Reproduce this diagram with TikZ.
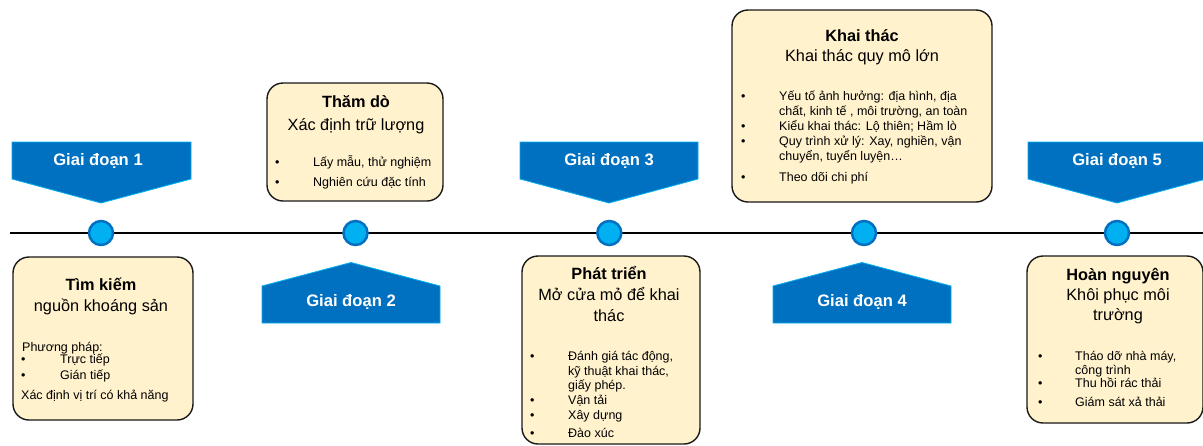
\documentclass[tikz,border=0pt]{standalone}
\usepackage{fontspec}
\setmainfont{Liberation Sans}
\definecolor{bandblue}{HTML}{0070C0}
\definecolor{dotcyan}{HTML}{00B0F0}
\definecolor{cream}{HTML}{FFF2CC}
\begin{document}
\begin{tikzpicture}[x=1pt, y=-1pt,
  box/.style = {draw=black!90, line width=1.4pt, fill=cream, rounded corners=16pt, inner sep=0pt},
  band/.style = {fill=bandblue, draw=dotcyan, line width=0.8pt},
  bandtext/.style = {text=white, font=\bfseries\fontsize{16.6}{19}\selectfont, anchor=base},
  milestone/.style = {circle, draw=bandblue, fill=dotcyan, line width=2.5pt, minimum size=24pt, inner sep=0pt},
  head/.style = {font=\bfseries\fontsize{16.3}{19}\selectfont, anchor=base},
  sub/.style = {font=\fontsize{16.3}{19}\selectfont, anchor=base},
  item/.style = {font=\fontsize{12.5}{14}\selectfont, anchor=base west, inner sep=0pt},
  dot/.style = {font=\fontsize{12.5}{14}\selectfont, anchor=base west, inner sep=0pt}]
\useasboundingbox (0,0) rectangle (1203,445);

% timeline
\coordinate (start) at (10,233);
\coordinate (end) at (1203,233);
\draw[line width=2.8pt] (start) -- (end);
\node[milestone] (p1) at (101,233) {};
\node[milestone] (p2) at (355.5,233) {};
\node[milestone] (p3) at (609.3,233) {};
\node[milestone] (p4) at (864,233) {};
\node[milestone] (p5) at (1117,233) {};

% stage banners
\draw[band] (12,142) -- (191,142) -- (191,179) -- (101,203) -- (12,179) -- cycle;
\draw[band] (520,142) -- (698,142) -- (698,179) -- (609,203) -- (520,179) -- cycle;
\draw[band] (1028,142) -- (1206,142) -- (1206,179) -- (1117,203) -- (1028,179) -- cycle;
\draw[band] (262,286) -- (351,262.5) -- (440,286) -- (440,323) -- (262,323) -- cycle;
\draw[band] (773,286) -- (862,262.5) -- (951,286) -- (951,323) -- (773,323) -- cycle;
\node[bandtext] (s1) at (98,165.5) {Giai đoạn 1};
\node[bandtext] (s2) at (351,306.5) {Giai đoạn 2};
\node[bandtext] (s3) at (609,165.5) {Giai đoạn 3};
\node[bandtext] (s4) at (862,306.5) {Giai đoạn 4};
\node[bandtext] (s5) at (1117,165.5) {Giai đoạn 5};

% stage 1
\node[box, minimum width=180pt, minimum height=163pt] (b1) at (103,338.5) {};
\node[head] (t1) at (101,290.5) {Tìm kiếm};
\node[sub] (u1) at (101,311) {nguồn khoáng sản};
\node[item] (i1a) at (22,351) {Phương pháp:};
\node[dot] (d1b) at (21,363.5) {•};
\node[item] (i1b) at (60,363.5) {Trực tiếp};
\node[dot] (d1c) at (21,379) {•};
\node[item] (i1c) at (60,379) {Gián tiếp};
\node[item] (i1d) at (21,399) {Xác định vị trí có khả năng};

% stage 2
\node[box, minimum width=176pt, minimum height=118pt] (b2) at (355,142) {};
\node[head] (t2) at (356,107.5) {Thăm dò};
\node[sub] (u2) at (356,130) {Xác định trữ lượng};
\node[dot] (d2a) at (275,166) {•};
\node[item] (i2a) at (313,166) {Lấy mẫu, thử nghiệm};
\node[dot] (d2b) at (275,186) {•};
\node[item] (i2b) at (313,186) {Nghiên cứu đặc tính};

% stage 3
\node[box, minimum width=178pt, minimum height=188pt] (b3) at (611,350) {};
\node[head] (t3) at (609,279) {Phát triển};
\node[sub] (u3) at (609,300) {Mở cửa mỏ để khai};
\node[sub] (v3) at (609,321) {thác};
\node[dot] (d3a) at (530,360.5) {•};
\node[item] (i3a) at (568,360.5) {Đánh giá tác động,};
\node[item] (j3a) at (568,375.5) {kỹ thuật khai thác,};
\node[item] (k3a) at (568,389.5) {giấy phép.};
\node[dot] (d3b) at (530,404) {•};
\node[item] (i3b) at (568,404) {Vận tải};
\node[dot] (d3c) at (530,419) {•};
\node[item] (i3c) at (568,419) {Xây dựng};
\node[dot] (d3d) at (530,437) {•};
\node[item] (i3d) at (568,437) {Đào xúc};

% stage 4
\node[box, minimum width=260pt, minimum height=192pt] (b4) at (862,106) {};
\node[head] (t4) at (862,41.5) {Khai thác};
\node[sub] (u4) at (862,61.5) {Khai thác quy mô lớn};
\node[dot] (d4a) at (741,100) {•};
\node[item] (i4a) at (779,100) {Yếu tố ảnh hưởng: địa hình, địa};
\node[item] (j4a) at (779,115) {chất, kinh tế , môi trường, an toàn};
\node[dot] (d4b) at (741,130) {•};
\node[item] (i4b) at (779,130) {Kiểu khai thác: Lộ thiên; Hầm lò};
\node[dot] (d4c) at (741,145) {•};
\node[item] (i4c) at (779,145) {Quy trình xử lý: Xay, nghiền, vận};
\node[item] (j4c) at (779,160.5) {chuyển, tuyển luyện…};
\node[dot] (d4d) at (741,181) {•};
\node[item] (i4d) at (779,181) {Theo dõi chi phí};

% stage 5
\node[box, minimum width=176pt, minimum height=167pt] (b5) at (1115,339.5) {};
\node[head] (t5) at (1118,280) {Hoàn nguyên};
\node[sub] (u5) at (1118,300.5) {Khôi phục môi};
\node[sub] (v5) at (1118,320) {trường};
\node[dot] (d5a) at (1038,360.5) {•};
\node[item] (i5a) at (1075,360.5) {Tháo dỡ nhà máy,};
\node[item] (j5a) at (1075,374.5) {công trình};
\node[dot] (d5b) at (1038,387.5) {•};
\node[item] (i5b) at (1075,387.5) {Thu hồi rác thải};
\node[dot] (d5c) at (1038,406.5) {•};
\node[item] (i5c) at (1075,406.5) {Giám sát xả thải};
\end{tikzpicture}
\end{document}
